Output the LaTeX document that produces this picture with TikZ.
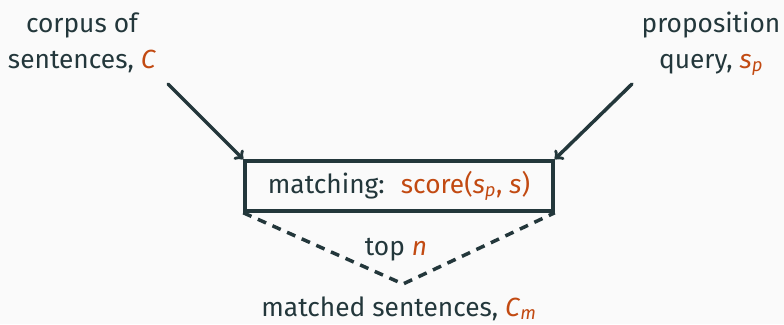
\documentclass[tikz,border=0pt]{standalone}
\usepackage{fontspec}
\setmainfont{Fira Sans}
\definecolor{mdark}{HTML}{23373B}
\definecolor{morange}{HTML}{C24A12}
\definecolor{mbg}{HTML}{FAFAFA}
\newcommand{\hl}[1]{\textcolor{morange}{#1}}
\newcommand{\var}[1]{\textit{#1}}
\begin{document}
\begin{tikzpicture}[x=1pt,y=-1pt,
  lbl/.style={text=mdark,font=\fontsize{26.3}{36}\selectfont,align=center,inner sep=0pt},
  conn/.style={draw=mdark,line width=3.5pt,line cap=round},
  dashconn/.style={draw=mdark,line width=3.5pt,dash pattern=on 9pt off 7pt}]
\fill[mbg] (0,0) rectangle (784,324);
\useasboundingbox (0,0) rectangle (784,324);
\node[lbl,anchor=base] (corpus) at (82,68) {corpus of\\sentences, \hl{\var{C}}};
\node[lbl,anchor=base] (prop) at (711,68) {proposition\\query, \hl{\var{s}\textsubscript{\var{p}}}};
\node[lbl,draw=mdark,line width=3.5pt,minimum width=308pt,minimum height=50pt] (box) at (399,186)
  {matching: \ \hl{score(\var{s}\textsubscript{\var{p}}, \var{s})}};
\node[lbl,anchor=base] (top) at (396,255) {top \hl{\var{n}}};
\node[lbl,anchor=base] (matched) at (399,316) {matched sentences, \hl{\var{C}\textsubscript{\var{m}}}};
\coordinate (s1) at (168,84);
\coordinate (s2) at (632,84);
\coordinate (apex) at (403,284);
\draw[conn,-to] (s1) -- (box.north west);
\draw[conn,-to] (s2) -- (box.north east);
\draw[dashconn] (box.south west) -- (apex) -- (box.south east);
\end{tikzpicture}
\end{document}
